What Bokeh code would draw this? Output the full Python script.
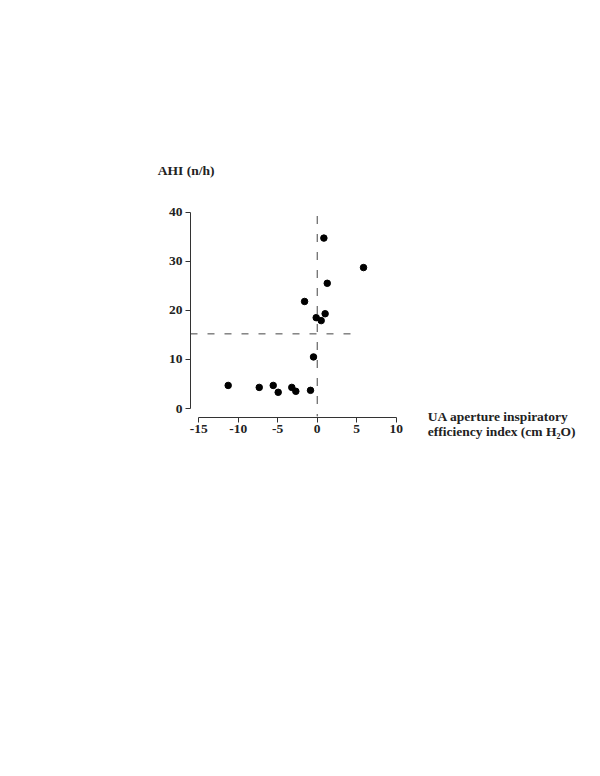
from bokeh.plotting import figure
from bokeh.models import Range1d, FixedTicker, Title
from bokeh.embed import file_html
from bokeh.resources import INLINE

# Data
ua_index = [0.84, 1.27, -1.6, -0.13, 0.5, 1.0, -0.47, -0.85, 5.86,
            -11.27, -7.34, -5.57, -4.94, -3.22, -2.71]
ahi = [34.7, 25.5, 21.8, 18.5, 17.9, 19.3, 10.5, 3.7, 28.7,
       4.7, 4.3, 4.7, 3.3, 4.3, 3.5]
x_ticks = [-15, -10, -5, 0, 5, 10]
y_ticks = [0, 10, 20, 30, 40]
ahi_threshold = [15.2]
ua_threshold = [0]
h_line_x = [-16.04, 5.0]
v_line_y = [39.2, -1.6]

FONT = "Liberation Serif"

p = figure(width=580, height=750, output_backend="svg", toolbar_location=None,
           x_range=Range1d(-16.04, 10.54), y_range=Range1d(-1.83, 41.34),
           min_border_left=190, min_border_top=205, min_border_right=180,
           min_border_bottom=333)
p.outline_line_color = None
p.grid.visible = False
p.background_fill_color = "white"
p.border_fill_color = "white"

for ax, ticks, bounds in ((p.xaxis[0], x_ticks, (-15, 10)), (p.yaxis[0], y_ticks, (0, 40))):
    ax.ticker = FixedTicker(ticks=ticks)
    ax.major_label_overrides = {t: str(t) for t in ticks}
    ax.bounds = bounds
    ax.axis_line_color = "#333333"
    ax.major_tick_line_color = "#333333"
    ax.major_tick_out = 5
    ax.major_tick_in = 0
    ax.minor_tick_line_color = None
    ax.major_label_text_font = FONT
    ax.major_label_text_font_style = "bold"
    ax.major_label_text_font_size = "13.5px"
    ax.major_label_text_color = "#222222"
p.xaxis.major_label_standoff = 2
p.yaxis.major_label_standoff = 3

# dashed reference lines
p.line(x=h_line_x, y=[ahi_threshold[0]] * 2, line_color="#444444", line_width=1,
       line_dash="7 10")
p.line(x=[ua_threshold[0]] * 2, y=v_line_y, line_color="#444444", line_width=1,
       line_dash="8 10")

p.scatter(x=ua_index, y=ahi, size=6.5, color="black", marker="circle")

txt = dict(text_font=FONT, text_font_style="bold", text_font_size="13.5px",
           text_color="#222222")

# y title above the frame
p.title.text = "AHI (n/h)"
p.title.align = "left"
p.title.offset = -32.7
p.title.standoff = 55
p.title.vertical_align = "bottom"
for k, v in txt.items():
    setattr(p.title, k, v)

# x title to the right of the x axis (two lines, right aligned)
p.add_layout(Title(text="UA aperture inspiratory\nefficiency index (cm H\u2082O)",
                   align="right", offset=-175, standoff=-54, vertical_align="top",
                   text_line_height=1.05, **txt), "below")

open("out.html", "w").write(file_html(p, INLINE))
